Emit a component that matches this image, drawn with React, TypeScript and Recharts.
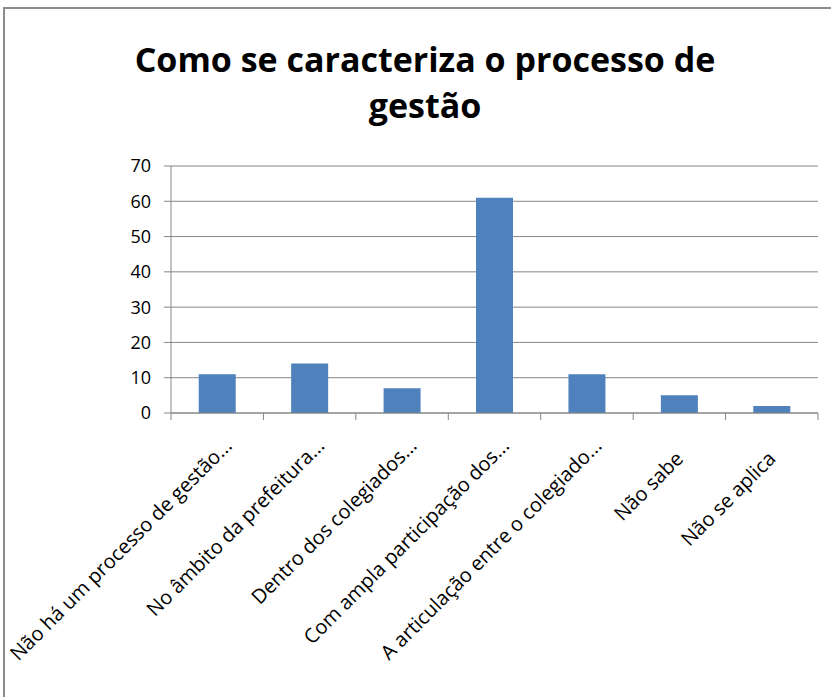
import React from "react";
import { BarChart, Bar, XAxis, YAxis, CartesianGrid } from "recharts";

const categories = [
  "Não há um processo de gestão...",
  "No âmbito da prefeitura...",
  "Dentro dos colegiados...",
  "Com ampla participação dos...",
  "A articulação entre o colegiado...",
  "Não sabe",
  "Não se aplica",
];

const values = [11, 14, 7, 61, 11, 5, 2];

const yTicks = [0, 10, 20, 30, 40, 50, 60, 70];

const titleLines = ["Como se caracteriza o processo de", "gestão"];

const data = categories.map((name, i) => ({ name, total: values[i] }));

const FONT = "'Open Sans', sans-serif";
const AXIS = "#868686";

function CategoryTick(props: any) {
  const { x, y, payload, index } = props;
  const half = payload && payload.offset ? payload.offset : 0;
  const last = index === categories.length - 1;
  const truncated = String(payload.value).endsWith("...");
  const ax = truncated ? x + 16 : x + 5;
  const ay = truncated ? y + 26 : y + 39;
  return (
    <g>
      <line x1={x - half} y1={y - 8} x2={x - half} y2={y - 1} stroke={AXIS} />
      {last && <line x1={x + half} y1={y - 8} x2={x + half} y2={y - 1} stroke={AXIS} />}
      <text
        x={ax}
        y={ay}
        transform={`rotate(-45, ${ax}, ${ay})`}
        textAnchor="end"
        fontSize={20}
        fontFamily={FONT}
        fill="#000"
      >
        {payload.value}
      </text>
    </g>
  );
}

export default function App() {
  return (
    <div
      style={{
        position: "absolute",
        left: 0,
        top: 0,
        width: 831,
        height: 697,
        overflow: "hidden",
        background: "#fff",
      }}
    >
      <div
        style={{
          position: "absolute",
          left: 3,
          top: 7,
          width: 860,
          height: 720,
          border: "2px solid #8c8c8c",
          boxSizing: "border-box",
        }}
      />
      <div
        style={{
          position: "absolute",
          left: 0,
          top: 36,
          width: 850,
          textAlign: "center",
          fontFamily: FONT,
          fontWeight: "bold",
          fontSize: 34,
          lineHeight: "46px",
          color: "#000",
        }}
      >
        {titleLines.map((t) => (
          <div key={t}>{t}</div>
        ))}
      </div>
      <div style={{ position: "absolute", left: 0, top: 0 }}>
        <BarChart
          width={831}
          height={697}
          data={data}
          margin={{ top: 166, right: 13, bottom: 0, left: 111 }}
          barCategoryGap="30%"
        >
          <CartesianGrid vertical={false} stroke={AXIS} strokeWidth={1} />
          <XAxis
            dataKey="name"
            interval={0}
            height={284}
            tickLine={false}
            axisLine={{ stroke: AXIS }}
            tick={<CategoryTick />}
          />
          <YAxis
            domain={[0, 70]}
            ticks={yTicks}
            width={60}
            axisLine={{ stroke: AXIS }}
            tickLine={{ stroke: AXIS }}
            tickSize={7}
            tickMargin={13}
            tick={{ fontSize: 18, fontFamily: FONT, fill: "#000" }}
          />
          <Bar dataKey="total" fill="#4f81bd" isAnimationActive={false} />
        </BarChart>
      </div>
    </div>
  );
}
